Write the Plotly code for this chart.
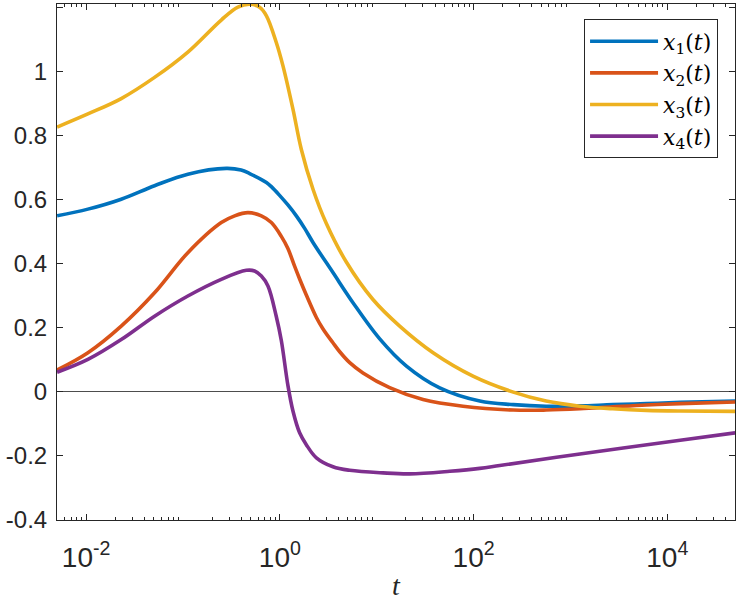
import numpy as np
import plotly.graph_objects as go

# log10(t) sample positions and values
lt1 = [-2.300, -1.982, -1.638, -1.294, -0.950, -0.553, -0.400, -0.312, -0.139, -0.088, -0.003, 0.083,
       0.170, 0.256, 0.342, 0.548, 0.755, 1.031, 1.307, 1.650, 2.064, 2.410, 2.749, 3.098, 3.436,
       3.785, 4.133, 4.700]
x1 = [0.549, 0.570, 0.601, 0.643, 0.679, 0.697, 0.692, 0.681, 0.653, 0.640, 0.613, 0.583,
      0.549, 0.510, 0.466, 0.372, 0.278, 0.165, 0.080, 0.012, -0.029, -0.040, -0.045, -0.044, -0.040,
      -0.037, -0.033, -0.029]

lt2 = [-2.300, -1.982, -1.638, -1.294, -0.950, -0.605, -0.467, -0.330, -0.191, -0.088, 0.015, 0.083,
       0.152, 0.204, 0.273, 0.377, 0.444, 0.548, 0.618, 0.721, 0.858, 1.133, 1.478, 1.891, 2.410,
       2.749, 3.098, 3.436, 3.785, 4.133, 4.700]
x2 = [0.068, 0.122, 0.205, 0.309, 0.434, 0.528, 0.549, 0.559, 0.549, 0.528, 0.485, 0.447,
      0.392, 0.352, 0.302, 0.232, 0.197, 0.153, 0.125, 0.091, 0.059, 0.013, -0.024, -0.045, -0.057,
      -0.057, -0.053, -0.047, -0.041, -0.037, -0.032]

lt3 = [-2.300, -1.982, -1.638, -1.294, -0.950, -0.605, -0.433, -0.312, -0.209, -0.140, -0.037, 0.032,
       0.135, 0.221, 0.342, 0.480, 0.686, 0.961, 1.237, 1.582, 1.994, 2.410, 2.749, 3.098, 3.436,
       3.785, 4.133, 4.700]
x3 = [0.826, 0.867, 0.915, 0.981, 1.060, 1.160, 1.200, 1.209, 1.200, 1.174, 1.090, 1.017,
      0.882, 0.757, 0.632, 0.525, 0.405, 0.288, 0.205, 0.122, 0.049, -0.001, -0.029, -0.045, -0.053,
      -0.058, -0.060, -0.061]

lt4 = [-2.300, -1.982, -1.638, -1.294, -0.950, -0.605, -0.346, -0.261, -0.191, -0.123, -0.037, 0.015,
       0.083, 0.135, 0.204, 0.273, 0.377, 0.548, 0.721, 1.065, 1.341, 1.754, 2.064, 2.270, 3.098,
       4.133, 4.700]
x4 = [0.061, 0.101, 0.163, 0.236, 0.299, 0.351, 0.379, 0.377, 0.361, 0.330, 0.235, 0.160,
      0.020, -0.060, -0.128, -0.165, -0.206, -0.234, -0.245, -0.253, -0.256, -0.248, -0.239, -0.230, -0.194,
      -0.151, -0.128]

names = ["<i>x</i><sub>1</sub>(<i>t</i>)", "<i>x</i><sub>2</sub>(<i>t</i>)",
         "<i>x</i><sub>3</sub>(<i>t</i>)", "<i>x</i><sub>4</sub>(<i>t</i>)"]
colors = ["#0072BD", "#D95319", "#EDB120", "#7E2F8E"]

xtick_vals = [1e-2, 1e0, 1e2, 1e4]
xtick_text = ["10<sup>-2</sup>", "10<sup>0</sup>", "10<sup>2</sup>", "10<sup>4</sup>"]
ytick_vals = [-0.4, -0.2, 0, 0.2, 0.4, 0.6, 0.8, 1.0, 1.2]
ytick_text = ["-0.4", "-0.2", "0", "0.2", "0.4", "0.6", "0.8", "1", "1.2"]

minor_vals = [k * 10.0 ** n for n in range(-3, 5) for k in range(2, 10)]

fig = go.Figure()
for lt, ys, nm, c in zip([lt1, lt2, lt3, lt4], [x1, x2, x3, x4], names, colors):
    fig.add_trace(go.Scatter(x=10 ** np.array(lt), y=ys, mode="lines", name=nm,
                             line=dict(color=c, width=3.6, shape="spline", smoothing=1.0)))

axcol = "#262626"
fig.update_layout(
    width=736, height=601,
    margin=dict(l=57, r=1, t=4, b=81),
    paper_bgcolor="white", plot_bgcolor="white",
    legend=dict(x=0.975, y=0.970, xanchor="right", yanchor="top",
                bgcolor="white", bordercolor=axcol, borderwidth=1,
                font=dict(family="DejaVu Serif", size=22, color="black"),
                itemwidth=68),
)
fig.update_xaxes(type="log", range=[np.log10(0.005), np.log10(5e4)], automargin=False,
                 tickmode="array", tickvals=xtick_vals, ticktext=xtick_text,
                 ticks="inside", ticklen=6, tickcolor=axcol, mirror="allticks",
                 showline=True, linecolor=axcol, linewidth=1, showgrid=False, zeroline=False,
                 minor=dict(tickmode="array", tickvals=minor_vals, ticks="inside", ticklen=3,
                            tickcolor=axcol, showgrid=False),
                 tickfont=dict(family="Liberation Sans", size=28, color=axcol),
                 ticklabelstandoff=12,
                 title=dict(text="<i>t</i>", font=dict(family="Liberation Serif", size=28, color=axcol),
                            standoff=14))
fig.update_yaxes(range=[-0.4, 1.21], automargin=False,
                 tickmode="array", tickvals=ytick_vals, ticktext=ytick_text,
                 ticks="inside", ticklen=6, tickcolor=axcol, mirror="allticks",
                 showline=True, linecolor=axcol, linewidth=1, showgrid=False,
                 zeroline=True, zerolinecolor="#4d4d4d", zerolinewidth=1.2,
                 tickfont=dict(family="Liberation Sans", size=24, color=axcol),
                 ticklabelstandoff=4)

fig.write_html("out.html", config={"displayModeBar": False},
               post_script="document.body.style.margin='0px';")
